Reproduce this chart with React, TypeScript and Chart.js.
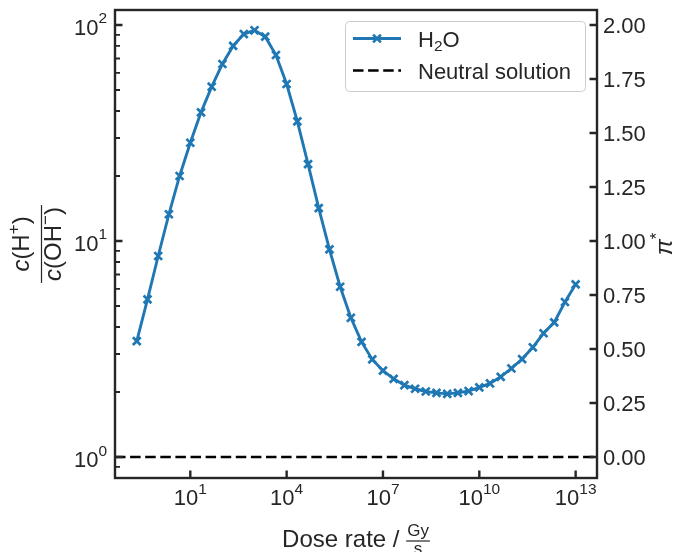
import React, { useEffect, useRef } from "react";
import { Chart, registerables } from "chart.js";

Chart.register(...registerables);

// ---------- data ----------
const doseRates = [
  2.154e-1, 4.642e-1, 1e0,
  2.154e0, 4.642e0, 1e1,
  2.154e1, 4.642e1, 1e2,
  2.154e2, 4.642e2, 1e3,
  2.154e3, 4.642e3, 1e4,
  2.154e4, 4.642e4, 1e5,
  2.154e5, 4.642e5, 1e6,
  2.154e6, 4.642e6, 1e7,
  2.154e7, 4.642e7, 1e8,
  2.154e8, 4.642e8, 1e9,
  2.154e9, 4.642e9, 1e10,
  2.154e10, 4.642e10, 1e11,
  2.154e11, 4.642e11, 1e12,
  2.154e12, 4.642e12, 1e13,
];
const ratioH2O = [
  3.44, 5.37, 8.52, 13.3, 20.0, 28.5, 39.4, 51.8, 66.0, 80.0, 90.8, 94.5,
  88.3, 72.6, 53.3, 35.8, 22.7, 14.2, 9.15, 6.14, 4.41, 3.41, 2.83, 2.51,
  2.30, 2.15, 2.07, 2.01, 1.98, 1.96, 1.98, 2.02, 2.10, 2.19, 2.35, 2.57,
  2.84, 3.22, 3.74, 4.20, 5.22, 6.30,
];
const neutralLevel = 1;
const seriesLabels = ["H₂O", "Neutral solution"];

const xTickValues = [1e1, 1e4, 1e7, 1e10, 1e13];
const xTickExponents = ["1", "4", "7", "10", "13"];
const yMajorTickValues = [1, 10, 100];
const yMajorTickExponents = ["0", "1", "2"];
const yMinorTickValues = [0.9, 2, 3, 4, 5, 6, 7, 8, 9, 20, 30, 40, 50, 60, 70, 80, 90];
const piTickValues = [0, 0.25, 0.5, 0.75, 1, 1.25, 1.5, 1.75, 2];
const piTickLabels = ["0.00", "0.25", "0.50", "0.75", "1.00", "1.25", "1.50", "1.75", "2.00"];

const X_MIN = Math.pow(10, -1.345);
const X_MAX = Math.pow(10, 13.665);
const Y_MIN = Math.pow(10, -0.0972);
const Y_MAX = Math.pow(10, 2.0694);
const PI_MIN = -0.0972;
const PI_MAX = 2.0694;

// ---------- style ----------
const FONT = '"Liberation Sans", Arial, Helvetica, sans-serif';
const INK = "#262626";
const BLUE = "#1f77b4";
const DASH = [10.5, 4.6];
const TICK_FS = 22;
const SUP_FS = 15.5;
const LABEL_FS = 24;

type Run = { t: string; size: number; italic?: boolean; dy?: number };

function fontOf(r: Run) {
  return `${r.italic ? "italic " : ""}${r.size}px ${FONT}`;
}
function runsWidth(ctx: CanvasRenderingContext2D, runs: Run[]) {
  let w = 0;
  for (const r of runs) {
    ctx.font = fontOf(r);
    w += ctx.measureText(r.t).width;
  }
  return w;
}
function drawRuns(
  ctx: CanvasRenderingContext2D,
  runs: Run[],
  x: number,
  y: number,
  align: "left" | "center" | "right"
) {
  const w = runsWidth(ctx, runs);
  let cx = align === "left" ? x : align === "right" ? x - w : x - w / 2;
  ctx.textAlign = "left";
  ctx.textBaseline = "alphabetic";
  for (const r of runs) {
    ctx.font = fontOf(r);
    ctx.fillText(r.t, cx, y + (r.dy || 0));
    cx += ctx.measureText(r.t).width;
  }
  return w;
}

const SUBS: Record<string, string> = { "₀": "0", "₁": "1", "₂": "2", "₃": "3" };
function labelRuns(label: string, size: number): Run[] {
  const runs: Run[] = [];
  for (const ch of label) {
    const sub = SUBS[ch];
    const r: Run = sub ? { t: sub, size: size * 0.7, dy: size * 0.22 } : { t: ch, size };
    const last = runs[runs.length - 1];
    if (last && last.size === r.size && (last.dy || 0) === (r.dy || 0)) last.t += r.t;
    else runs.push(r);
  }
  return runs;
}

function drawCross(ctx: CanvasRenderingContext2D, x: number, y: number, r: number) {
  const o = r * Math.SQRT1_2;
  ctx.beginPath();
  ctx.moveTo(x - o, y - o);
  ctx.lineTo(x + o, y + o);
  ctx.moveTo(x + o, y - o);
  ctx.lineTo(x - o, y + o);
  ctx.stroke();
}

const decorPlugin = {
  id: "decor",
  afterDatasetsDraw(chart: any) {
    const { ctx, chartArea: a, scales } = chart;
    const sx = scales.x;
    const sy = scales.y;
    const sp = scales.pi;
    ctx.save();
    ctx.strokeStyle = INK;
    ctx.fillStyle = INK;
    ctx.lineCap = "butt";

    // major ticks (inward)
    ctx.lineWidth = 2.4;
    ctx.beginPath();
    for (const t of sx.ticks) {
      const p = sx.getPixelForValue(t.value);
      ctx.moveTo(p, a.bottom);
      ctx.lineTo(p, a.bottom - 7.5);
    }
    for (const t of sy.ticks) {
      if (!t.major) continue;
      const p = sy.getPixelForValue(t.value);
      ctx.moveTo(a.left, p);
      ctx.lineTo(a.left + 7.5, p);
    }
    for (const t of sp.ticks) {
      const p = sp.getPixelForValue(t.value);
      ctx.moveTo(a.right, p);
      ctx.lineTo(a.right - 7.5, p);
    }
    ctx.stroke();
    // minor ticks
    ctx.lineWidth = 1.9;
    ctx.beginPath();
    for (const t of sy.ticks) {
      if (t.major) continue;
      const p = sy.getPixelForValue(t.value);
      ctx.moveTo(a.left, p);
      ctx.lineTo(a.left + 5, p);
    }
    ctx.stroke();

    // frame
    ctx.lineWidth = 2.4;
    ctx.strokeRect(a.left, a.top, a.right - a.left, a.bottom - a.top);

    // tick labels
    for (const t of sx.ticks) {
      const p = sx.getPixelForValue(t.value);
      drawRuns(
        ctx,
        [
          { t: "10", size: TICK_FS },
          { t: t.exp, size: SUP_FS, dy: -11.5 },
        ],
        p,
        a.bottom + 27,
        "center"
      );
    }
    for (const t of sy.ticks) {
      if (!t.major) continue;
      const p = sy.getPixelForValue(t.value);
      drawRuns(
        ctx,
        [
          { t: "10", size: TICK_FS },
          { t: t.exp, size: SUP_FS, dy: -11.5 },
        ],
        a.left - 8,
        p + 10,
        "right"
      );
    }
    for (const t of sp.ticks) {
      const p = sp.getPixelForValue(t.value);
      drawRuns(ctx, [{ t: t.text, size: TICK_FS }], a.right + 6, p + 8, "left");
    }
    ctx.restore();
  },
  afterDraw(chart: any) {
    const { ctx, chartArea: a } = chart;
    ctx.save();
    ctx.fillStyle = INK;
    ctx.strokeStyle = INK;

    // x title: Dose rate / Gy over s
    {
      const main: Run[] = [{ t: "Dose rate / ", size: LABEL_FS }];
      const fs = 17;
      const wMain = runsWidth(ctx, main);
      ctx.font = fontOf({ t: "", size: fs });
      const wNum = ctx.measureText("Gy").width;
      const wDen = ctx.measureText("s").width;
      const wBar = Math.max(wNum, wDen) + 2;
      const total = wMain + wBar;
      const cx = (a.left + a.right) / 2;
      const x0 = cx - total / 2;
      const base = 547;
      drawRuns(ctx, main, x0, base, "left");
      const bx = x0 + wMain;
      const barY = 541;
      ctx.fillRect(bx, barY - 0.6, wBar, 1.2);
      drawRuns(ctx, [{ t: "Gy", size: fs }], bx + wBar / 2, barY - 5.5, "center");
      drawRuns(ctx, [{ t: "s", size: fs }], bx + wBar / 2, barY + 13, "center");
    }

    // left y title: c(H+) / c(OH-)
    {
      const num: Run[] = [
        { t: "c", size: LABEL_FS, italic: true },
        { t: "(H", size: LABEL_FS },
        { t: "+", size: 17, dy: -10 },
        { t: ")", size: LABEL_FS },
      ];
      const den: Run[] = [
        { t: "c", size: LABEL_FS, italic: true },
        { t: "(OH", size: LABEL_FS },
        { t: "−", size: 17, dy: -10 },
        { t: ")", size: LABEL_FS },
      ];
      const wN = runsWidth(ctx, num);
      const wD = runsWidth(ctx, den);
      const wBar = Math.max(wN, wD) + 4;
      ctx.translate(41.5, (a.top + a.bottom) / 2);
      ctx.rotate(-Math.PI / 2);
      ctx.fillRect(-wBar / 2, -0.6, wBar, 1.2);
      drawRuns(ctx, num, 0, -13, "center");
      drawRuns(ctx, den, 0, 19, "center");
      ctx.setTransform(1, 0, 0, 1, 0, 0);
    }

    // right y title: pi*
    {
      ctx.translate(672, (a.top + a.bottom) / 2);
      ctx.rotate(-Math.PI / 2);
      drawRuns(
        ctx,
        [
          { t: "π", size: LABEL_FS, italic: true },
          { t: "*", size: 17, dy: -10 },
        ],
        0,
        0,
        "center"
      );
      ctx.setTransform(1, 0, 0, 1, 0, 0);
    }

    // legend
    {
      const bx = 345.5, by = 21.5, bw = 240, bh = 70;
      ctx.beginPath();
      ctx.roundRect(bx, by, bw, bh, 4);
      ctx.fillStyle = "rgba(255,255,255,0.8)";
      ctx.fill();
      ctx.lineWidth = 1;
      ctx.strokeStyle = "#cccccc";
      ctx.stroke();

      const ds = chart.data.datasets;
      const rows = [38.5, 70.5];
      ds.forEach((d: any, i: number) => {
        const yy = rows[i];
        ctx.strokeStyle = d.borderColor;
        ctx.lineWidth = d.borderWidth;
        ctx.setLineDash(d.borderDash || []);
        ctx.beginPath();
        ctx.moveTo(353, yy);
        ctx.lineTo(401, yy);
        ctx.stroke();
        ctx.setLineDash([]);
        if (d.pointRadius > 0) {
          ctx.lineWidth = d.pointBorderWidth;
          drawCross(ctx, 377, yy, d.pointRadius);
        }
        ctx.fillStyle = INK;
        drawRuns(ctx, labelRuns(d.label, 22), 418, yy + 8, "left");
      });
    }
    ctx.restore();
  },
};

export default function App() {
  const canvasRef = useRef<HTMLCanvasElement | null>(null);

  useEffect(() => {
    const canvas = canvasRef.current;
    if (!canvas) return;
    const chart = new Chart(canvas, {
      type: "line",
      data: {
        datasets: [
          {
            label: seriesLabels[0],
            data: doseRates.map((x, i) => ({ x, y: ratioH2O[i] })),
            borderColor: BLUE,
            backgroundColor: BLUE,
            borderWidth: 2.9,
            pointStyle: "crossRot",
            pointRadius: 5.5,
            pointBorderWidth: 2.7,
            pointBorderColor: BLUE,
            pointBackgroundColor: BLUE,
            tension: 0,
            yAxisID: "y",
            xAxisID: "x",
          },
          {
            label: seriesLabels[1],
            data: [
              { x: X_MIN, y: neutralLevel },
              { x: X_MAX, y: neutralLevel },
            ],
            borderColor: "#000000",
            borderDash: DASH,
            borderWidth: 2.6,
            pointRadius: 0,
            tension: 0,
            yAxisID: "y",
            xAxisID: "x",
          },
        ],
      },
      options: {
        responsive: false,
        animation: false,
        devicePixelRatio: 1,
        events: [],
        layout: { padding: { top: 10, left: 0, right: 0, bottom: 0 } },
        plugins: {
          legend: { display: false },
          tooltip: { enabled: false },
          title: { display: false },
        },
        scales: {
          x: {
            type: "logarithmic",
            position: "bottom",
            min: X_MIN,
            max: X_MAX,
            bounds: "data",
            grid: { display: false },
            border: { display: false },
            ticks: { display: false },
            afterBuildTicks: (s: any) => {
              s.ticks = xTickValues.map((v, i) => ({ value: v, major: true, exp: xTickExponents[i] }));
            },
            afterFit: (s: any) => {
              s.height = 74;
            },
          },
          y: {
            type: "logarithmic",
            position: "left",
            min: Y_MIN,
            max: Y_MAX,
            bounds: "data",
            grid: { display: false },
            border: { display: false },
            ticks: { display: false },
            afterBuildTicks: (s: any) => {
              s.ticks = [
                ...yMajorTickValues.map((v, i) => ({ value: v, major: true, exp: yMajorTickExponents[i] })),
                ...yMinorTickValues.map((v) => ({ value: v, major: false })),
              ];
            },
            afterFit: (s: any) => {
              s.width = 115;
            },
          },
          pi: {
            type: "linear",
            position: "right",
            min: PI_MIN,
            max: PI_MAX,
            bounds: "data",
            grid: { display: false },
            border: { display: false },
            ticks: { display: false },
            afterBuildTicks: (s: any) => {
              s.ticks = piTickValues.map((v, i) => ({ value: v, major: true, text: piTickLabels[i] }));
            },
            afterFit: (s: any) => {
              s.width = 78;
            },
          },
        },
      } as any,
      plugins: [decorPlugin as any],
    });
    return () => chart.destroy();
  }, []);

  return (
    <div style={{ position: "absolute", left: 0, top: 0, width: 675, height: 552, background: "#ffffff" }}>
      <canvas ref={canvasRef} width={675} height={552} style={{ display: "block" }} />
    </div>
  );
}
